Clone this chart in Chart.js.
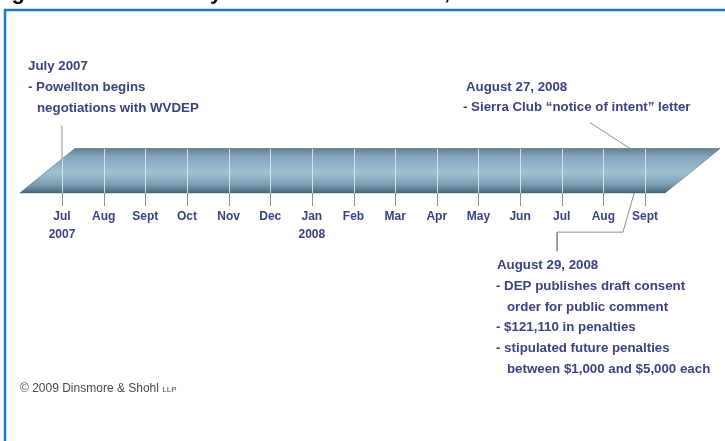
<!DOCTYPE html>
<html>
<head>
<meta charset="utf-8">
<script src="https://cdn.jsdelivr.net/npm/chart.js@4"></script>
<style>
  html, body { margin: 0; padding: 0; background: #fff; }
  #wrap { width: 725px; height: 441px; }
</style>
</head>
<body>
<div id="wrap"><canvas id="timeline" width="725" height="441"></canvas></div>
<script>
// months along the timeline, 0 = July 2007
const monthValues = [0, 1, 2, 3, 4, 5, 6, 7, 8, 9, 10, 11, 12, 13, 14];
const monthLabels = [["Jul", "2007"], "Aug", "Sept", "Oct", "Nov", "Dec", ["Jan", "2008"],
    "Feb", "Mar", "Apr", "May", "Jun", "Jul", "Aug", "Sept"];

// the slanted timeline bar (months, bar units)
const barX = [-1.01, 14.48, 15.8, 0.31, -1.01];
const barY = [1, 1, 4.4, 4.4, 1];

// callout leader lines
const leaderJul07X = [0, 0];
const leaderJul07Y = [3.6, 6.15];
const leaderAug27X = [12.68, 13.64];
const leaderAug27Y = [6.38, 4.4];
const leaderAug29X = [13.74, 13.47, 11.89, 11.89];
const leaderAug29Y = [1, -2, -2, -3.45];

const callouts = [
    { x: 28, y: 66, lines: ["July 2007"] },
    { x: 28, y: 87, lines: ["- Powellton begins"] },
    { x: 37, y: 108, lines: ["negotiations with WVDEP"] },
    { x: 466, y: 87, lines: ["August 27, 2008"] },
    { x: 463, y: 107, lines: ["- Sierra Club \u201cnotice of intent\u201d letter"] },
    { x: 497, y: 265, lines: ["August 29, 2008"] },
    { x: 496, y: 286, lines: ["- DEP publishes draft consent"] },
    { x: 507, y: 307, lines: ["order for public comment"] },
    { x: 496, y: 327, lines: ["- $121,110 in penalties"] },
    { x: 496, y: 348, lines: ["- stipulated future penalties"] },
    { x: 507, y: 369, lines: ["between $1,000 and $5,000 each"] },
];

const TEXT_COLOR = "#3b4382";

function pts(xs, ys) {
    return xs.map((x, i) => ({ x: x, y: ys[i] }));
}

function leader(xs, ys) {
    return {
        data: pts(xs, ys),
        borderColor: "#8e8e8e",
        borderWidth: 1,
        pointRadius: 0,
        fill: false,
        tension: 0,
        clip: false,
    };
}

function barGradient(c) {
    const chart = c.chart;
    const y = chart.scales.y;
    const top = y ? y.getPixelForValue(4.4) : NaN;
    const bottom = y ? y.getPixelForValue(1) : NaN;
    if (!isFinite(top) || !isFinite(bottom)) return "#8fb0c4";
    const g = chart.ctx.createLinearGradient(0, top, 0, bottom);
    g.addColorStop(0, "#5e7e95");
    g.addColorStop(0.18, "#84a5ba");
    g.addColorStop(0.55, "#a0c0d4");
    g.addColorStop(0.82, "#7b9bb0");
    g.addColorStop(1, "#48667a");
    return g;
}

const framePlugin = {
    id: "frame",
    beforeDraw(chart) {
        const ctx = chart.ctx;
        ctx.save();
        ctx.fillStyle = "#fff";
        ctx.fillRect(0, 0, chart.width, chart.height);
        // clipped heading above the frame
        ctx.fillStyle = "#111";
        ctx.font = "bold 22px 'Liberation Sans'";
        ctx.textBaseline = "alphabetic";
        ctx.fillText("Figure 1", -8, -1);
        ctx.fillText("Summary", 122, -1);
        ctx.fillText("of Events, 2007", 345, -1);
        // blue frame
        ctx.strokeStyle = "#1b7bc4";
        ctx.lineWidth = 2.5;
        ctx.beginPath();
        ctx.moveTo(5, 442);
        ctx.lineTo(5, 10);
        ctx.lineTo(726, 10);
        ctx.stroke();
        ctx.restore();
    }
};

const dividerPlugin = {
    id: "dividers",
    afterDatasetsDraw(chart) {
        const { ctx, scales: { x, y } } = chart;
        ctx.save();
        // light month lines inside the bar
        ctx.beginPath();
        barX.forEach((v, i) => {
            const px = x.getPixelForValue(v), py = y.getPixelForValue(barY[i]);
            if (i === 0) ctx.moveTo(px, py); else ctx.lineTo(px, py);
        });
        ctx.closePath();
        ctx.clip();
        ctx.strokeStyle = "rgba(214,232,244,0.9)";
        ctx.lineWidth = 1;
        monthValues.forEach(m => {
            const px = Math.round(x.getPixelForValue(m)) + 0.5;
            ctx.beginPath();
            ctx.moveTo(px, y.getPixelForValue(1));
            ctx.lineTo(px, y.getPixelForValue(4.4));
            ctx.stroke();
        });
        ctx.restore();

        // tick marks under the bar
        ctx.save();
        ctx.strokeStyle = "#8c9096";
        ctx.lineWidth = 1;
        monthValues.forEach(m => {
            const px = Math.round(x.getPixelForValue(m)) + 0.5;
            ctx.beginPath();
            ctx.moveTo(px, y.getPixelForValue(1));
            ctx.lineTo(px, y.getPixelForValue(0));
            ctx.stroke();
        });
        ctx.restore();
    },
    afterDraw(chart) {
        const ctx = chart.ctx;
        ctx.save();
        ctx.fillStyle = TEXT_COLOR;
        ctx.font = "bold 13.3px 'Liberation Sans'";
        ctx.textBaseline = "middle";
        callouts.forEach(c => {
            c.lines.forEach((t, i) => ctx.fillText(t, c.x, c.y + i * 21));
        });
        // copyright
        ctx.fillStyle = "#4a4a4a";
        ctx.font = "12px 'Liberation Sans'";
        const txt = "\u00a9 2009 Dinsmore & Shohl ";
        ctx.fillText(txt, 20, 389);
        const w = ctx.measureText(txt).width;
        ctx.font = "8px 'Liberation Sans'";
        ctx.fillText("LLP", 20 + w, 390);
        ctx.restore();
    }
};

new Chart(document.getElementById("timeline"), {
    type: "line",
    data: {
        datasets: [
            {
                data: pts(barX, barY),
                fill: "shape",
                tension: 0,
                pointRadius: 0,
                borderColor: "rgba(72,100,120,0.7)",
                borderWidth: 0.8,
                clip: false,
                backgroundColor: barGradient,
            },
            leader(leaderJul07X, leaderJul07Y),
            leader(leaderAug27X, leaderAug27Y),
            leader(leaderAug29X, leaderAug29Y),
        ]
    },
    options: {
        responsive: false,
        animation: false,
        events: [],
        layout: { padding: { left: 15, right: 0, top: 10, bottom: 195 } },
        plugins: { legend: { display: false }, tooltip: { enabled: false } },
        scales: {
            x: {
                type: "linear",
                min: -1.1287,
                max: 15.921,
                grid: { display: false, drawTicks: false },
                border: { display: false },
                afterBuildTicks: (axis) => { axis.ticks = monthValues.map(v => ({ value: v })); },
                ticks: {
                    autoSkip: false,
                    maxRotation: 0,
                    padding: 2,
                    color: TEXT_COLOR,
                    font: { family: "'Liberation Sans'", weight: "bold", size: 12, lineHeight: 1.5 },
                    callback: (v) => monthLabels[v],
                },
            },
            y: {
                display: false,
                min: 0,
                max: 15,
            },
        },
    },
    plugins: [framePlugin, dividerPlugin],
});
</script>
</body>
</html>
